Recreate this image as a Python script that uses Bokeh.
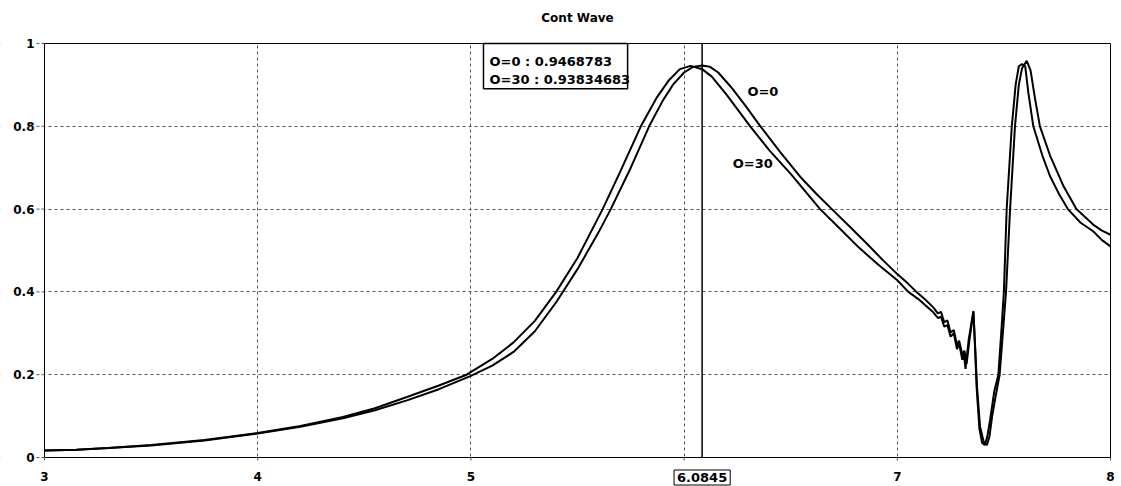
from bokeh.plotting import figure
from bokeh.models import Label, BoxAnnotation, FixedTicker, Range1d
from bokeh.core.properties import value
from bokeh.embed import file_html
from bokeh.resources import INLINE

# ---- data ----
o0_x = [3.00, 3.15, 3.30, 3.50, 3.75, 4.00, 4.20, 4.40, 4.55, 4.70, 4.85, 5.00, 5.10, 5.20,
        5.30, 5.40, 5.50, 5.60, 5.656, 5.75, 5.836, 5.90, 5.95, 6.00, 6.04, 6.0845, 6.12,
        6.16, 6.22, 6.29, 6.358, 6.45, 6.55, 6.62, 6.693, 6.78, 6.86, 6.93, 7.00, 7.05,
        7.09, 7.13, 7.17, 7.19, 7.205, 7.22, 7.235, 7.25, 7.265, 7.28, 7.29, 7.305, 7.315,
        7.325, 7.34, 7.357, 7.366, 7.374, 7.388, 7.405, 7.42, 7.432, 7.445, 7.462, 7.48,
        7.495, 7.51, 7.529, 7.552, 7.57, 7.585, 7.607, 7.625, 7.645, 7.669, 7.716, 7.78,
        7.84, 7.92, 7.96, 8.00]
o0_y = [0.017, 0.019, 0.023, 0.029, 0.041, 0.058, 0.074, 0.095, 0.114, 0.138, 0.165, 0.197,
        0.222, 0.255, 0.305, 0.375, 0.455, 0.545, 0.600, 0.700, 0.800, 0.862, 0.902, 0.930,
        0.943, 0.947, 0.944, 0.930, 0.895, 0.848, 0.800, 0.738, 0.675, 0.637, 0.600, 0.556,
        0.515, 0.478, 0.443, 0.420, 0.400, 0.382, 0.362, 0.348, 0.352, 0.327, 0.331, 0.302,
        0.308, 0.272, 0.282, 0.248, 0.258, 0.226, 0.290, 0.352, 0.260, 0.170, 0.075, 0.038,
        0.030, 0.050, 0.100, 0.150, 0.200, 0.300, 0.400, 0.600, 0.800, 0.900, 0.940, 0.958,
        0.935, 0.870, 0.800, 0.730, 0.655, 0.600, 0.562, 0.548, 0.538]

o30_x = [3.00, 3.15, 3.30, 3.50, 3.75, 4.00, 4.20, 4.40, 4.55, 4.70, 4.85, 4.98, 5.10, 5.20,
         5.30, 5.40, 5.50, 5.618, 5.70, 5.797, 5.87, 5.93, 5.98, 6.03, 6.0845, 6.13, 6.20,
         6.31, 6.40, 6.50, 6.638, 6.73, 6.82, 6.91, 7.00, 7.052, 7.10, 7.17, 7.19, 7.205,
         7.22, 7.235, 7.25, 7.265, 7.28, 7.29, 7.305, 7.312, 7.32, 7.335, 7.357, 7.365, 7.372,
         7.385, 7.398, 7.41, 7.422, 7.435, 7.455, 7.474, 7.49, 7.50, 7.513, 7.537, 7.555,
         7.57, 7.585, 7.60, 7.615, 7.638, 7.68, 7.716, 7.76, 7.80, 7.86, 7.92, 7.96, 8.00]
o30_y = [0.017, 0.019, 0.023, 0.030, 0.042, 0.059, 0.076, 0.098, 0.119, 0.146, 0.174, 0.200,
         0.238, 0.278, 0.330, 0.400, 0.482, 0.600, 0.690, 0.800, 0.868, 0.912, 0.938, 0.946,
         0.938, 0.920, 0.876, 0.800, 0.742, 0.685, 0.600, 0.553, 0.507, 0.466, 0.428, 0.400,
         0.382, 0.350, 0.337, 0.340, 0.316, 0.320, 0.292, 0.300, 0.262, 0.276, 0.236, 0.250,
         0.214, 0.285, 0.354, 0.260, 0.170, 0.070, 0.035, 0.030, 0.050, 0.090, 0.160, 0.200,
         0.320, 0.400, 0.600, 0.800, 0.900, 0.945, 0.950, 0.945, 0.880, 0.800, 0.730, 0.680,
         0.635, 0.600, 0.567, 0.546, 0.525, 0.510]

x_ticks = [3, 4, 5, 6, 7, 8]
x_tick_labels = ["3", "4", "5", "", "7", "8"]
y_ticks = [0, 0.2, 0.4, 0.6, 0.8, 1]
y_tick_labels = ["0", "0.2", "0.4", "0.6", "0.8", "1"]

title_text = "Cont Wave"
cursor_x = 6.0845
cursor_text = "6.0845"
readout_names = ["O=0", "O=30"]
readout_values = ["0.9468783", "0.93834683"]
series_labels = ["O=0", "O=30"]

FONT = "DejaVu Sans"

# layout: data area 1066 x 414 px, 44 px left, 11 px right, 43 px above, 29 px below
PY = 414.0
PX = 1066.0 / 5.0
x0, x1 = x_ticks[0], x_ticks[-1]
y0, y1 = y_ticks[0], y_ticks[-1]
x_lo, x_hi = x0 - 44 / PX, x1 + 11 / PX
y_lo, y_hi = y0 - 29 / PY, y1 + 43 / PY

p = figure(width=1121, height=486, x_range=Range1d(x_lo, x_hi), y_range=Range1d(y_lo, y_hi),
           output_backend="svg", toolbar_location=None,
           x_axis_location=None, y_axis_location=None,
           min_border_left=0, min_border_right=0, min_border_top=0, min_border_bottom=0)
p.outline_line_color = None

# grids
p.xgrid.ticker = FixedTicker(ticks=x_ticks)
p.ygrid.ticker = FixedTicker(ticks=y_ticks)
for g in (p.xgrid[0], p.ygrid[0]):
    g.grid_line_color = "#555555"
    g.grid_line_dash = "3 3"
    g.grid_line_width = 1
    g.grid_line_alpha = 1

# white masks outside the data area (hide grid lines there)
for kw in (dict(bottom=y1), dict(top=y0), dict(right=x0), dict(left=x1)):
    p.add_layout(BoxAnnotation(fill_color="white", fill_alpha=1, line_color=None,
                               level="underlay", **kw))

# frame lines (left, right, bottom, top)
p.segment(x0=[x0, x1, x0, x0], y0=[y0, y0, y0, y1],
          x1=[x0, x1, x1, x1], y1=[y1, y1, y0, y1],
          line_color="black", line_width=1)

# x tick marks and labels
p.segment(x0=x_ticks, y0=[y0] * len(x_ticks), x1=x_ticks, y1=[y0 - 3 / PY] * len(x_ticks),
          line_color="#555555", line_width=1)
lab_x = [t for t, l in zip(x_ticks, x_tick_labels) if l]
lab_t = [l for l in x_tick_labels if l]
p.text(x=lab_x, y=[y0 - 19 / PY] * len(lab_x), text=lab_t, text_align="center",
       text_baseline="middle", text_font=value(FONT), text_font_style="bold",
       text_font_size="12px", text_color="black")

# y tick marks and labels
p.segment(x0=[x0 - 8 / PX] * len(y_ticks), y0=y_ticks,
          x1=[x0] * len(y_ticks), y1=y_ticks,
          line_color="#555555", line_width=1, line_dash="3 2")
p.text(x=[x0 - 10 / PX] * len(y_ticks), y=y_ticks, text=y_tick_labels,
       text_align="right", text_baseline="middle", text_font=value(FONT),
       text_font_style="bold", text_font_size="12px", text_color="black")

# curves
p.line(o0_x, o0_y, line_color="black", line_width=2)
p.line(o30_x, o30_y, line_color="black", line_width=2)

# cursor line
p.segment(x0=[cursor_x], y0=[y0], x1=[cursor_x], y1=[y1],
          line_color="black", line_width=1.5)

# title
p.add_layout(Label(x=(x0 + x1) / 2, y=y1 + 25.5 / PY, text=title_text,
                   text_align="center", text_baseline="middle", text_font=FONT,
                   text_font_style="bold", text_font_size="12px", text_color="black"))

# cursor value box under the axis
p.add_layout(Label(x=cursor_x, y=y0 - 20 / PY, text=cursor_text,
                   text_align="center", text_baseline="middle",
                   text_font=FONT, text_font_style="bold", text_font_size="13px",
                   text_color="black",
                   border_line_color="black", border_line_width=1,
                   background_fill_color="white", padding=3))

# readout box at top
p.add_layout(BoxAnnotation(left=5.059, right=5.735, top=1.0, bottom=0.891,
                           fill_color="white", fill_alpha=1,
                           line_color="black", line_width=1.5, line_alpha=1))
for i, (n, v) in enumerate(zip(readout_names, readout_values)):
    p.add_layout(Label(x=5.087, y=0.957 - i * 0.044, text=f"{n} : {v}",
                       text_align="left", text_baseline="middle",
                       text_font=FONT, text_font_style="bold", text_font_size="13px",
                       text_color="black"))

# series labels
p.add_layout(Label(x=6.297, y=0.884, text=series_labels[0], text_baseline="middle",
                   text_font=FONT, text_font_style="bold", text_font_size="13px",
                   text_color="black"))
p.add_layout(Label(x=6.228, y=0.711, text=series_labels[1], text_baseline="middle",
                   text_font=FONT, text_font_style="bold", text_font_size="13px",
                   text_color="black"))

open("out.html", "w").write(file_html(p, INLINE))
